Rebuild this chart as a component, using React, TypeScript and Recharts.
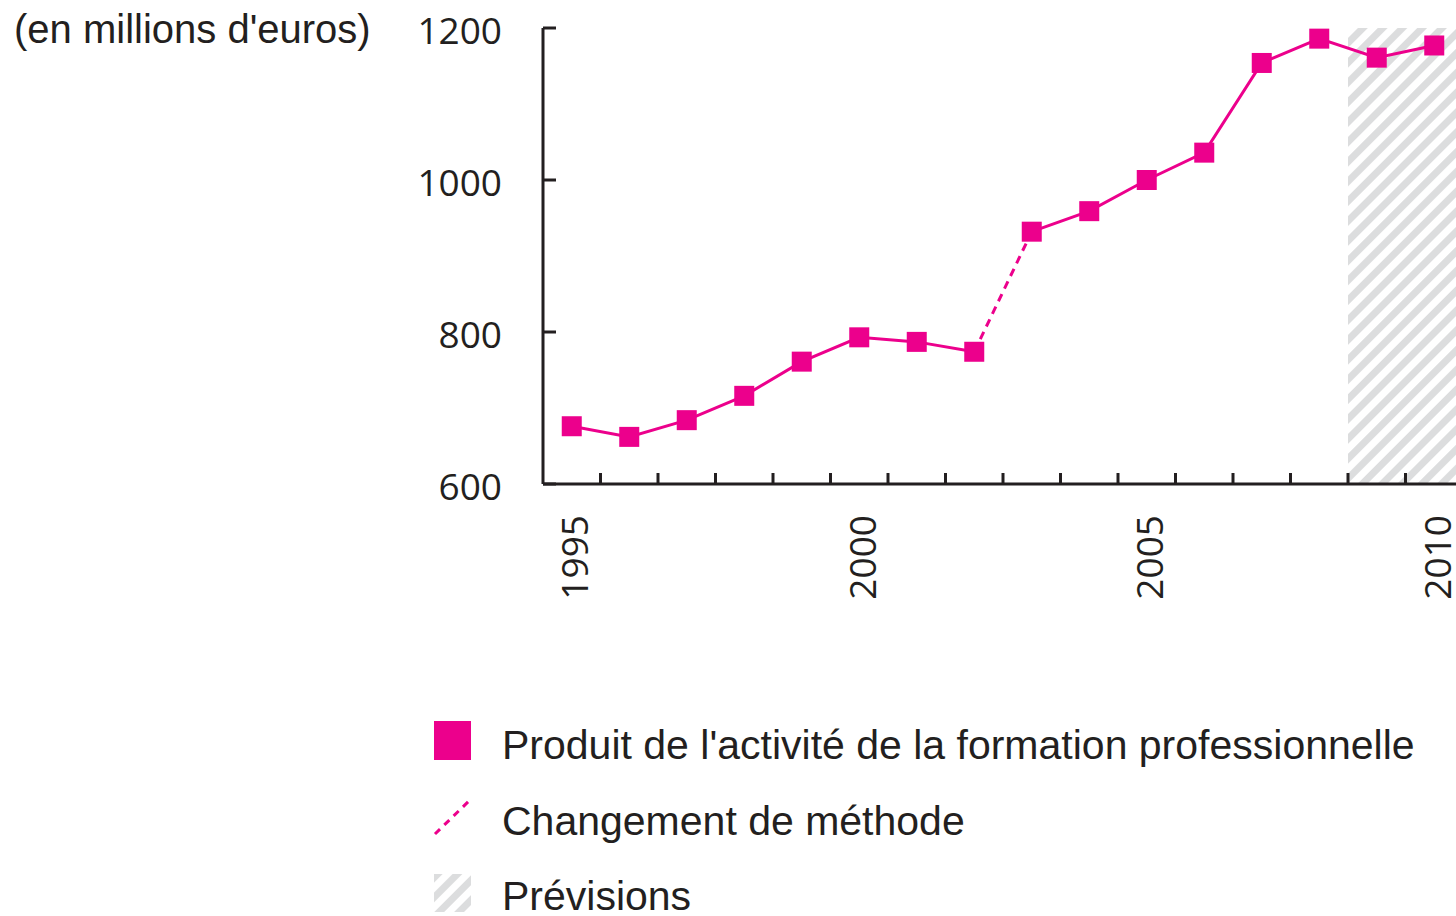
import { LineChart, Line, XAxis, YAxis, ReferenceArea } from 'recharts'

// Produit de l'activité de la formation professionnelle (millions d'euros)
const years = [1995, 1996, 1997, 1998, 1999, 2000, 2001, 2002, 2003, 2004, 2005, 2006, 2007, 2008, 2009, 2010]
const produit = [676, 662, 684, 716, 761, 793, 787, 774, 932, 959, 1000, 1036, 1154, 1186, 1161, 1177]
const methodChangeYear = 2003
const forecastYears = [2009, 2010]
const yTicks = [600, 800, 1000, 1200]
const yearLabels = [1995, 2000, 2005, 2010]

const PINK = '#EC008C'
const INK = '#231F20'
const HATCH = '#DCDDDE'
const NUM_FONT = '"Open Sans", sans-serif'
const TEXT_FONT = '"Liberation Sans", Arial, sans-serif'

const data = years.map((year, i) => ({
  year,
  avant: year < methodChangeYear ? produit[i] : null,
  apres: year >= methodChangeYear ? produit[i] : null,
  rupture: year === methodChangeYear - 1 || year === methodChangeYear ? produit[i] : null,
}))

// ticks between the years, labels on every 5th year
const boundaryTicks = years.slice(1).map((y) => y - 0.5)
const xTicks = [...boundaryTicks, ...yearLabels]

const XTick = (props: any) => {
  const { x, y, payload } = props
  const v = payload.value
  if (Number.isInteger(v)) {
    const tx = x + 2
    const ty = y + 31
    return (
      <text x={tx} y={ty} transform={`rotate(-90 ${tx} ${ty})`} textAnchor="end" dominantBaseline="central"
        fontFamily={NUM_FONT} fontSize={37} fill={INK}>
        {v}
      </text>
    )
  }
  return <line x1={x} x2={x} y1={y} y2={y - 11} stroke={INK} strokeWidth={3} />
}

const YTick = (props: any) => {
  const { x, y, payload } = props
  return (
    <g>
      <line x1={x} x2={x + 13} y1={y} y2={y} stroke={INK} strokeWidth={3} />
      <text x={x - 41} y={y + 1} textAnchor="end" dominantBaseline="central" fontFamily={NUM_FONT} fontSize={37} fill={INK}>
        {payload.value}
      </text>
    </g>
  )
}

const SquareDot = (props: any) => {
  const { cx, cy, index } = props
  if (cx == null || cy == null) return <g key={index} />
  return <rect key={index} x={cx - 10} y={cy - 10} width={20} height={20} fill={PINK} />
}

function HatchPattern({ id }: { id: string }) {
  return (
    <pattern id={id} patternUnits="userSpaceOnUse" width={14} height={14} patternTransform="rotate(45)">
      <rect x={0} y={0} width={7} height={14} fill={HATCH} />
    </pattern>
  )
}

export default function App() {
  return (
    <div style={{ position: 'absolute', left: 0, top: 0, width: 1456, height: 916, background: '#fff', overflow: 'hidden' }}>
      <LineChart width={1456} height={916} data={data} margin={{ top: 28, right: -7, bottom: 402, left: 483 }}>
        <defs>
          <HatchPattern id="hatch" />
        </defs>
        <ReferenceArea
          x1={forecastYears[0] - 0.5}
          x2={forecastYears[forecastYears.length - 1] + 0.5}
          y1={yTicks[0]}
          y2={yTicks[yTicks.length - 1]}
          fill="url(#hatch)"
          fillOpacity={1}
          stroke="none"
        />
        <XAxis
          dataKey="year"
          type="number"
          domain={[years[0] - 0.5, years[years.length - 1] + 0.5]}
          ticks={xTicks}
          interval={0}
          height={30}
          tickSize={0}
          tickMargin={0}
          tickLine={false}
          axisLine={{ stroke: INK, strokeWidth: 3 }}
          tick={XTick}
        />
        <YAxis
          type="number"
          domain={[yTicks[0], yTicks[yTicks.length - 1]]}
          ticks={yTicks}
          width={60}
          tickSize={0}
          tickMargin={0}
          tickLine={false}
          axisLine={{ stroke: INK, strokeWidth: 3 }}
          tick={YTick}
        />
        <Line dataKey="rupture" stroke={PINK} strokeWidth={3} strokeDasharray="8 6" dot={false} activeDot={false} connectNulls={false} isAnimationActive={false} />
        <Line dataKey="avant" stroke={PINK} strokeWidth={3} dot={SquareDot} activeDot={false} isAnimationActive={false} />
        <Line dataKey="apres" stroke={PINK} strokeWidth={3} dot={SquareDot} activeDot={false} isAnimationActive={false} />
      </LineChart>

      <svg width={1456} height={916} style={{ position: 'absolute', left: 0, top: 0, pointerEvents: 'none' }}>
        <defs>
          <HatchPattern id="hatch-legend" />
        </defs>
        <text x={14} y={43} fontFamily={TEXT_FONT} fontSize={40} fill={INK}>(en millions d'euros)</text>

        <rect x={434} y={721} width={37} height={39} fill={PINK} />
        <text x={502} y={759} fontFamily={TEXT_FONT} fontSize={41} fill={INK}>Produit de l'activité de la formation professionnelle</text>

        <line x1={435} y1={834} x2={470} y2={800} stroke={PINK} strokeWidth={3} strokeDasharray="7 6" />
        <text x={502} y={835} fontFamily={TEXT_FONT} fontSize={41} fill={INK}>Changement de méthode</text>

        <rect x={434} y={874} width={37} height={38} fill="url(#hatch-legend)" />
        <text x={502} y={910} fontFamily={TEXT_FONT} fontSize={41} fill={INK}>Prévisions</text>
      </svg>
    </div>
  )
}
